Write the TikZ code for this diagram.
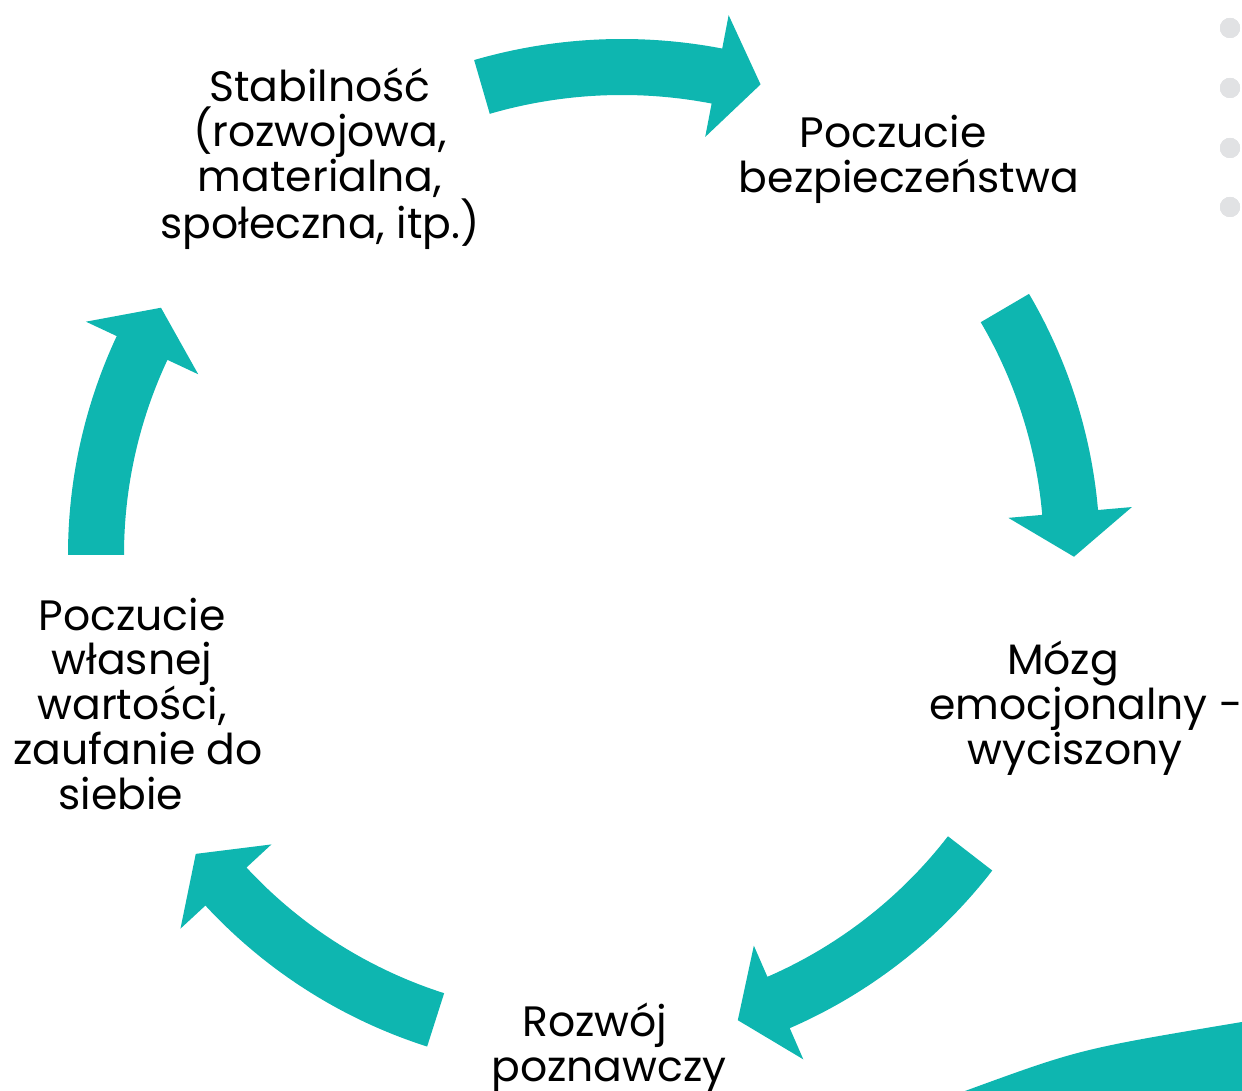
\documentclass[tikz,border=0pt]{standalone}
\usepackage{fontspec}
\setmainfont{Poppins}
\usepackage{tikz}
\usetikzlibrary{positioning,calc}
\definecolor{cycteal}{RGB}{14,182,176}
\definecolor{dotgray}{RGB}{225,226,228}
\tikzset{
  stagetext/.style ={align=center,font=\fontsize{24.2pt}{25.6pt}\selectfont,inner sep=0pt},
  cycarrow/.style  ={fill=cycteal},
  sidedot/.style   ={fill=dotgray},
}
% curved arrow: centre, radius, tail angle, end of band angle
\newcommand{\cycarr}[4]{%
  \fill[cycarrow,shift={#1}] (#3:#2+28) arc[start angle=#3,end angle=#4,radius=#2+28]
    -- (#4:#2+62) -- (#4-2540/#2:#2+2) -- (#4:#2-62) -- (#4:#2-28)
    arc[start angle=#4,end angle=#3,radius=#2-28] -- cycle;}
\begin{document}
\begin{tikzpicture}[x=0.02cm,y=0.02cm]
\useasboundingbox (0,0) rectangle (1242,1091);
\coordinate (c) at (584,536);
% stage labels
\node[stagetext] (stab) at (320,932) {Stabilność\\(rozwojowa,\\materialna,\\społeczna, itp.)};
\node[stagetext] (bezp) at (909,932) {\mbox{Poczucie\kern0.64cm}\\bezpieczeństwa};
\node[stagetext] (mozg) at (1086,383) {\mbox{Mózg\kern0.92cm}\\emocjonalny -\\\mbox{wyciszony\kern0.44cm}};
\node[stagetext] (rozw) at (609,43) {\mbox{Rozwój\kern0.56cm}\\poznawczy};
\node[stagetext] (wart) at (138,387) {\mbox{Poczucie\kern0.24cm}\\\mbox{własnej\kern0.24cm}\\\mbox{wartości,\kern0.24cm}\\zaufanie do\\\mbox{siebie\kern0.68cm}};
% curved arrows round the cycle
\cycarr{(622,522)}{502}{106.2}{79.1}
\foreach \a/\b in {30.4/5, -37.7/-66.5, -107.7/-137.2, 180/154.9}
  \cycarr{(c)}{488}{\a}{\b}
% side dots
\foreach \y in {28,88,148,207} \fill[sidedot] (1230,1091-\y) circle[radius=10];
% corner shape
\fill[cycarrow] (965,0) .. controls (1080,42) .. (1242,69) -- (1242,0) -- cycle;
\end{tikzpicture}
\end{document}
